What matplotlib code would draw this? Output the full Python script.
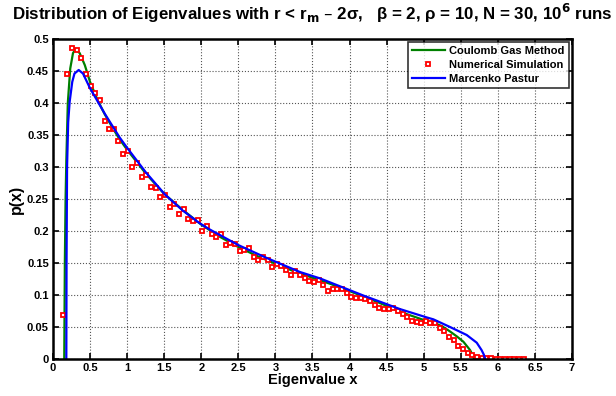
import numpy as np
import matplotlib
matplotlib.use("Agg")
import matplotlib.pyplot as plt

plt.rcParams['font.family'] = ['Liberation Sans', 'DejaVu Sans']
plt.rcParams['font.weight'] = 'bold'

# histogram of the simulation (bin centres are evenly spaced)
bin_start = 0.13
bin_width = 0.0628
sim_vals = [0.068, 0.446, 0.486, 0.483, 0.471, 0.446, 0.427, 0.416, 0.405, 0.372,
            0.360, 0.360, 0.340, 0.321, 0.325, 0.300, 0.306, 0.284, 0.287, 0.268,
            0.267, 0.253, 0.256, 0.238, 0.242, 0.227, 0.234, 0.218, 0.216, 0.217,
            0.200, 0.208, 0.196, 0.190, 0.196, 0.178, 0.182, 0.180, 0.168, 0.171,
            0.173, 0.160, 0.155, 0.159, 0.154, 0.143, 0.148, 0.145, 0.139, 0.132,
            0.137, 0.131, 0.126, 0.122, 0.121, 0.124, 0.116, 0.106, 0.109, 0.109,
            0.110, 0.103, 0.097, 0.095, 0.095, 0.094, 0.090, 0.084, 0.079, 0.078,
            0.078, 0.079, 0.075, 0.070, 0.065, 0.060, 0.058, 0.057, 0.059, 0.057,
            0.056, 0.049, 0.044, 0.035, 0.029, 0.021, 0.016, 0.010, 0.006, 0.003,
            0.002, 0.001, 0.001, 0.0005, 0.0005, 0.0005, 0.0003, 0.0003, 0.0002, 0.0002]
sim_x = bin_start + bin_width * np.arange(len(sim_vals))

# Coulomb gas density
cg_x = [0.152, 0.16, 0.17, 0.18, 0.20, 0.233, 0.27, 0.306, 0.36, 0.43, 0.5, 0.6, 0.7,
        0.8, 0.9, 1.0, 1.25, 1.5, 1.75, 2.0, 2.25, 2.5, 2.75, 3.0, 3.25, 3.5, 3.75,
        4.0, 4.25, 4.5, 4.75, 5.0, 5.13, 5.25, 5.355, 5.45, 5.535, 5.625, 5.66, 5.68]
cg_y = [0.0, 0.15, 0.25, 0.31, 0.40, 0.454, 0.478, 0.484, 0.478, 0.459, 0.433, 0.405,
        0.382, 0.362, 0.343, 0.327, 0.290, 0.258, 0.233, 0.210, 0.191, 0.175, 0.161,
        0.149, 0.137, 0.127, 0.117, 0.106, 0.095, 0.083, 0.071, 0.061, 0.057, 0.051,
        0.043, 0.035, 0.027, 0.014, 0.006, 0.0]

# Marcenko Pastur density
mp_x = [0.18, 0.183, 0.19, 0.205, 0.225, 0.26, 0.29, 0.347, 0.405, 0.5, 0.6, 0.7, 0.9,
        1.0, 1.25, 1.51, 1.75, 1.98, 2.12, 2.5, 2.88, 3.33, 3.6, 4.19, 4.68, 5.04, 5.13,
        5.355, 5.58, 5.715, 5.78, 5.81, 5.83]
mp_y = [0.0, 0.15, 0.30, 0.37, 0.402, 0.433, 0.446, 0.4516, 0.446, 0.423, 0.403, 0.383,
        0.346, 0.330, 0.292, 0.257, 0.232, 0.212, 0.202, 0.178, 0.158, 0.136, 0.126,
        0.099, 0.078, 0.065, 0.062, 0.050, 0.0375, 0.0255, 0.014, 0.007, 0.0]

xticks = np.arange(0, 7.01, 0.5)
yticks = np.arange(0, 0.501, 0.05)

fig = plt.figure(figsize=(6.16, 3.96), dpi=100)
ax = fig.add_axes([0.086, 0.0934, 0.8426, 0.8081])

ax.plot(cg_x, cg_y, color='#008000', lw=1.6, label='Coulomb Gas Method')
ax.plot(sim_x, sim_vals, 's', ms=3.3, mfc='white', mec='#ff0000', mew=1.3,
        label='Numerical Simulation')
ax.plot(mp_x, mp_y, color='#0000ff', lw=1.6, label='Marcenko Pastur')

ax.set_xlim(0, 7)
ax.set_ylim(0, 0.5)
ax.set_xticks(xticks)
ax.set_yticks(yticks)
ax.set_xticklabels(['%g' % v for v in xticks], fontsize=8, fontweight='bold')
ax.set_yticklabels(['%g' % round(v, 2) for v in yticks], fontsize=8, fontweight='bold')
ax.tick_params(direction='in', top=True, right=True, length=4, width=1.2, pad=3)
ax.grid(True, ls=':', color='#555555', lw=0.8)
for s in ax.spines.values():
    s.set_linewidth(1.8)

ax.set_xlabel('Eigenvalue x', fontsize=10.5, fontweight='bold', labelpad=0)
ax.set_ylabel('p(x)', fontsize=11.5, fontweight='bold', labelpad=2)
ax.set_title('Distribution of Eigenvalues with r < r$_\\mathbf{m}$ \u2013 2\u03c3,   '
             '\u03b2 = 2, \u03c1 = 10, N = 30, 10$^\\mathbf{6}$ runs',
             fontsize=12.2, fontweight='bold', pad=14)

leg = ax.legend(loc='upper right', fontsize=8, frameon=True, fancybox=False,
                borderpad=0.35, labelspacing=0.35, handlelength=3.0, handletextpad=0.4,
                borderaxespad=0.3)
leg.get_frame().set_edgecolor('black')
leg.get_frame().set_linewidth(1.2)

fig.savefig('out.png', dpi=100)
